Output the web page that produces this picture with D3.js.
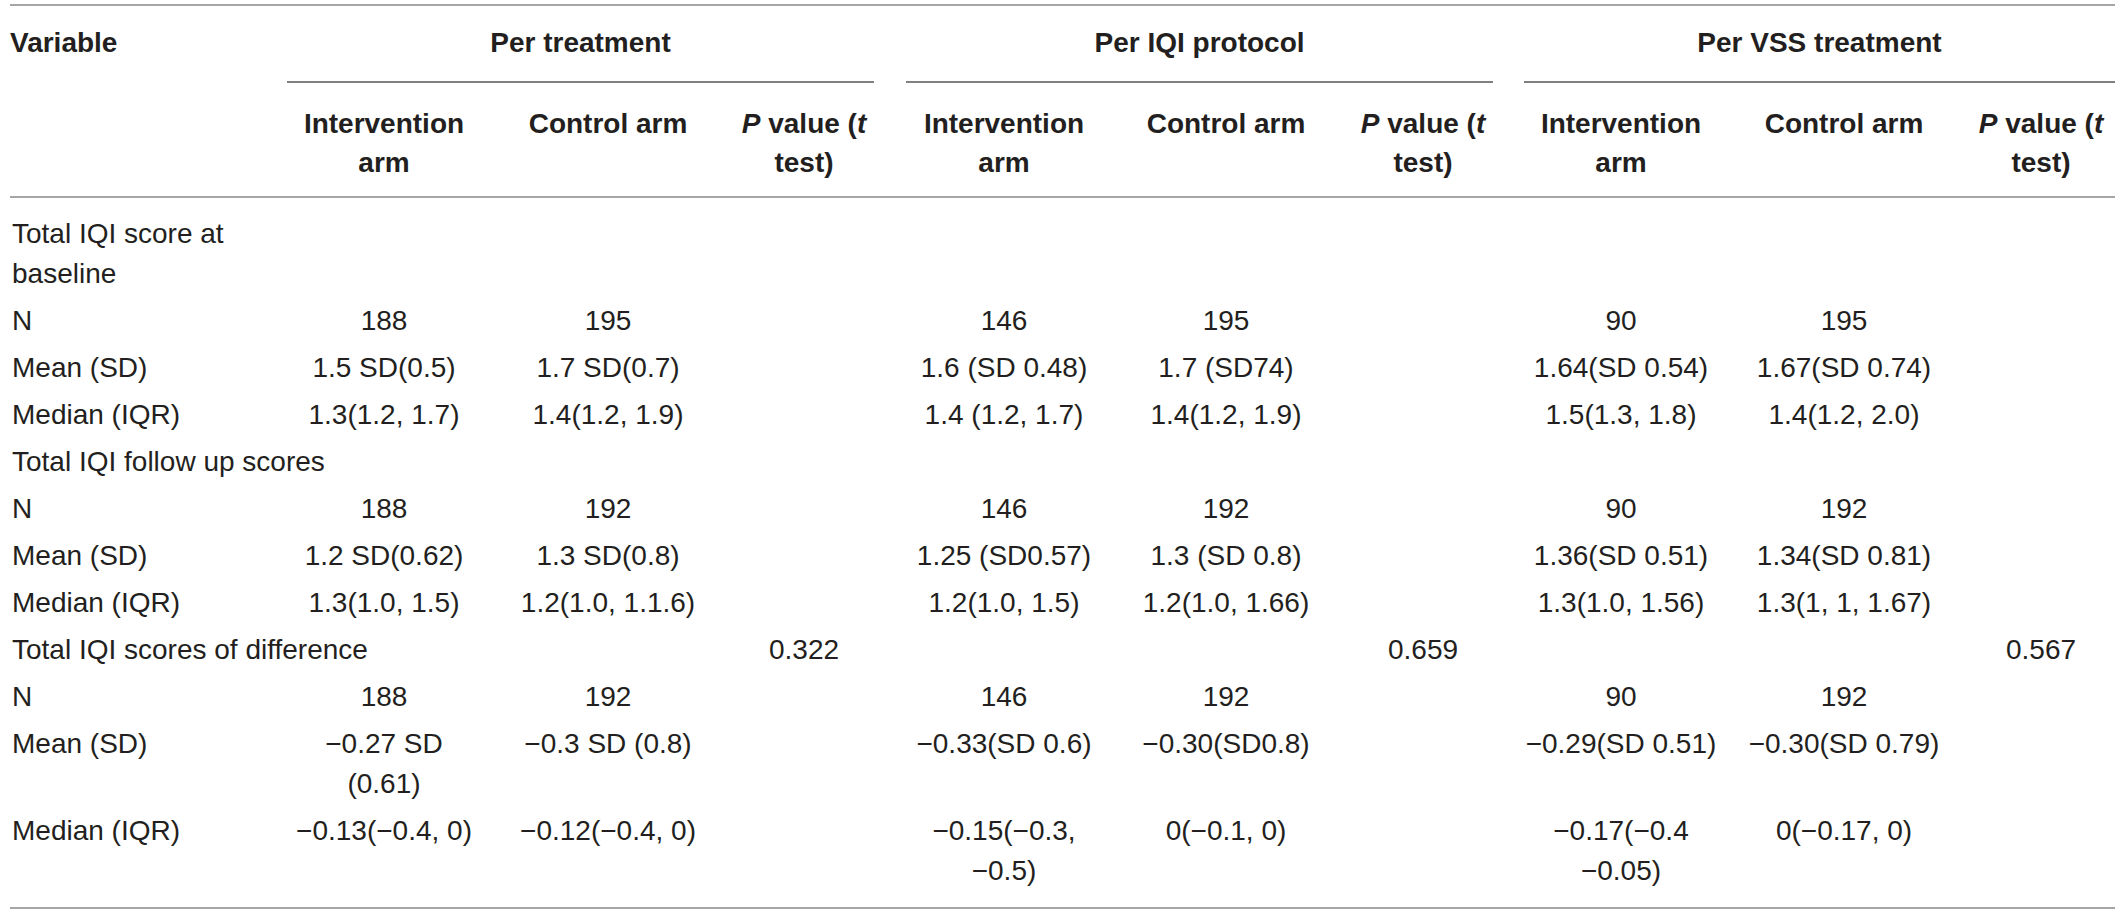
<!DOCTYPE html>
<html>
<head>
<meta charset="utf-8">
<script src="https://cdn.jsdelivr.net/npm/d3@7/dist/d3.min.js"></script>
<style>
  body { margin: 0; background: #fff; }
  text { font-family: "Liberation Sans", Arial, sans-serif; fill: #231f20; }
  .body { font-size: 28px; }
  .head { font-size: 28px; font-weight: bold; }
</style>
</head>
<body>
<svg id="table"></svg>
<script>
// group headers and sub-column headers
var groups = ["Per treatment", "Per IQI protocol", "Per VSS treatment"];
var subHeads = [["Intervention", "arm"], ["Control arm"], ["P value (t", "test)"]];

// first column labels (one entry per body row)
var rowLabels = [
	["Total IQI score at", "baseline"], ["N"], ["Mean (SD)"], ["Median (IQR)"],
	["Total IQI follow up scores"], ["N"], ["Mean (SD)"], ["Median (IQR)"],
	["Total IQI scores of difference"], ["N"], ["Mean (SD)"], ["Median (IQR)"]
];

// values per column, same row order as rowLabels
var perTreatmentInt  = ["", "188", "1.5 SD(0.5)", "1.3(1.2, 1.7)", "", "188", "1.2 SD(0.62)", "1.3(1.0, 1.5)", "", "188", ["−0.27 SD", "(0.61)"], "−0.13(−0.4, 0)"];
var perTreatmentCtrl = ["", "195", "1.7 SD(0.7)", "1.4(1.2, 1.9)", "", "192", "1.3 SD(0.8)", "1.2(1.0, 1.1.6)", "", "192", "−0.3 SD (0.8)", "−0.12(−0.4, 0)"];
var perTreatmentP    = ["", "", "", "", "", "", "", "", "0.322", "", "", ""];
var perIqiInt        = ["", "146", "1.6 (SD 0.48)", "1.4 (1.2, 1.7)", "", "146", "1.25 (SD0.57)", "1.2(1.0, 1.5)", "", "146", "−0.33(SD 0.6)", ["−0.15(−0.3,", "−0.5)"]];
var perIqiCtrl       = ["", "195", "1.7 (SD74)", "1.4(1.2, 1.9)", "", "192", "1.3 (SD 0.8)", "1.2(1.0, 1.66)", "", "192", "−0.30(SD0.8)", "0(−0.1, 0)"];
var perIqiP          = ["", "", "", "", "", "", "", "", "0.659", "", "", ""];
var perVssInt        = ["", "90", "1.64(SD 0.54)", "1.5(1.3, 1.8)", "", "90", "1.36(SD 0.51)", "1.3(1.0, 1.56)", "", "90", "−0.29(SD 0.51)", ["−0.17(−0.4", "−0.05)"]];
var perVssCtrl       = ["", "195", "1.67(SD 0.74)", "1.4(1.2, 2.0)", "", "192", "1.34(SD 0.81)", "1.3(1, 1, 1.67)", "", "192", "−0.30(SD 0.79)", "0(−0.17, 0)"];
var perVssP          = ["", "", "", "", "", "", "", "", "0.567", "", "", ""];

var columns = [perTreatmentInt, perTreatmentCtrl, perTreatmentP,
	perIqiInt, perIqiCtrl, perIqiP,
	perVssInt, perVssCtrl, perVssP];

var width = 2122, height = 914;
var svg = d3.select("#table").attr("width", width).attr("height", height);

function lines(v) { return Array.isArray(v) ? v : (v === "" ? [] : [v]); }

// layout
var left = 10, right = 2115;
var lineGap = 40, rowGap = 47;
var colX = d3.scaleOrdinal().domain(d3.range(columns.length))
	.range([384, 608, 804, 1004, 1226, 1423, 1621, 1844, 2041]);
var groupX = d3.scaleOrdinal().domain(d3.range(groups.length))
	.range([[287, 874], [906, 1493], [1524, 2115]]);

// row baselines from line counts
var rowLines = rowLabels.map(function(l, i) {
	return d3.max([l.length].concat(columns.map(function(c) { return lines(c[i]).length; })));
});
var rowY = [243];
for (var i = 1; i < rowLabels.length; i++) {
	rowY.push(rowY[i - 1] + (rowLines[i - 1] - 1) * lineGap + rowGap);
}
var rowScale = d3.scaleOrdinal().domain(d3.range(rowLabels.length)).range(rowY);

// rules
var rules = [
	{ x1: left, x2: right, y: 5, c: "#a6a6a6" },
	{ x1: left, x2: right, y: 197, c: "#a6a6a6" },
	{ x1: left, x2: right, y: 908, c: "#a6a6a6" }
].concat(groups.map(function(g, i) { return { x1: groupX(i)[0], x2: groupX(i)[1], y: 82, c: "#808080" }; }));

svg.selectAll(".rule").data(rules).enter().append("line")
	.attr("class", "rule")
	.attr("x1", function(d) { return d.x1; })
	.attr("x2", function(d) { return d.x2; })
	.attr("y1", function(d) { return d.y; })
	.attr("y2", function(d) { return d.y; })
	.attr("stroke", function(d) { return d.c; })
	.attr("stroke-width", 2);

// header
svg.append("text").attr("class", "head").attr("x", left).attr("y", 52).text("Variable");

svg.selectAll(".group").data(groups).enter().append("text")
	.attr("class", "head group")
	.attr("text-anchor", "middle")
	.attr("x", function(d, i) { return (groupX(i)[0] + groupX(i)[1]) / 2; })
	.attr("y", 52)
	.text(function(d) { return d; });

columns.forEach(function(c, ci) {
	var sh = subHeads[ci % 3];
	var t = svg.append("text").attr("class", "head").attr("text-anchor", "middle");
	sh.forEach(function(s, li) {
		var ts = t.append("tspan").attr("x", colX(ci)).attr("y", 133 + li * 39);
		if (s.indexOf("P value") === 0) {
			ts.append("tspan").attr("font-style", "italic").text("P");
			ts.append("tspan").text(" value (");
			ts.append("tspan").attr("font-style", "italic").text("t");
		} else {
			ts.text(s);
		}
	});
});

// body: first column labels
svg.selectAll(".label").data(rowLabels).enter().append("text")
	.attr("class", "body label")
	.attr("x", left + 2)
	.each(function(d, i) {
		d3.select(this).selectAll("tspan").data(d).enter().append("tspan")
			.attr("x", left + 2)
			.attr("y", function(s, li) { return rowScale(i) + li * lineGap; })
			.text(function(s) { return s; });
	});

// body: value cells
columns.forEach(function(c, ci) {
	svg.selectAll(".cell" + ci).data(c).enter().append("text")
		.attr("class", "body cell" + ci)
		.attr("text-anchor", "middle")
		.each(function(d, i) {
			d3.select(this).selectAll("tspan").data(lines(d)).enter().append("tspan")
				.attr("x", colX(ci))
				.attr("y", function(s, li) { return rowScale(i) + li * lineGap; })
				.text(function(s) { return s; });
		});
});
</script>
</body>
</html>
